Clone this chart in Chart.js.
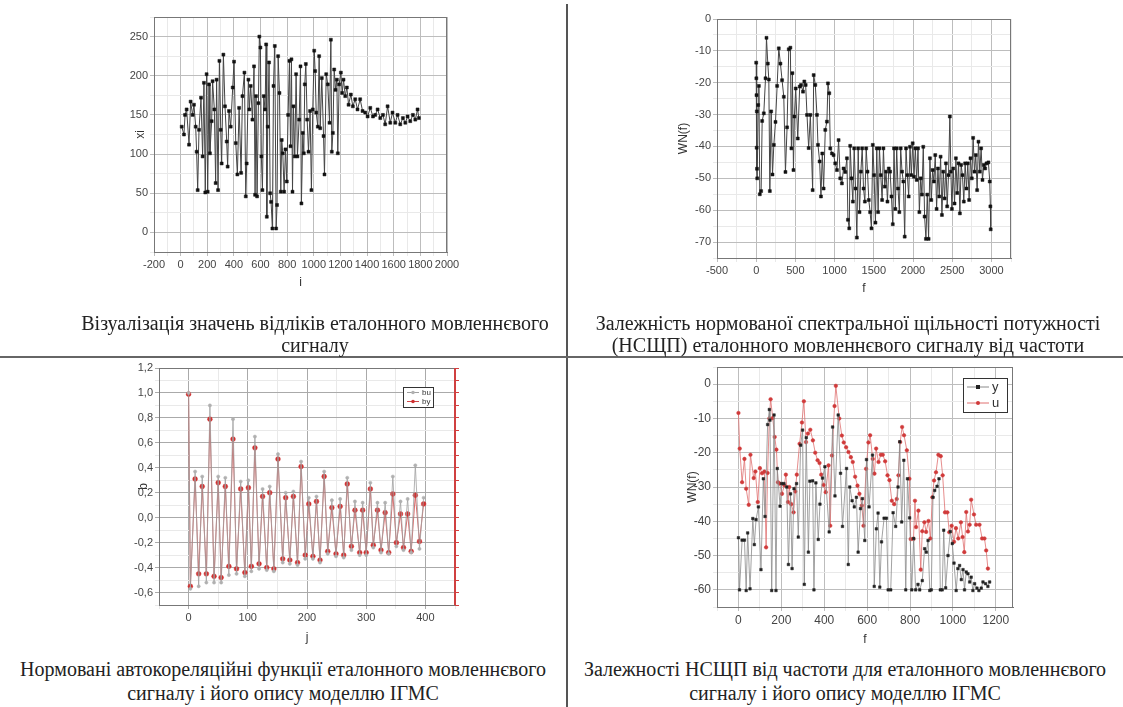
<!DOCTYPE html>
<html>
<head>
<meta charset="utf-8">
<script src="https://cdn.jsdelivr.net/npm/chart.js@4.4.0/dist/chart.umd.min.js"></script>
<style>
  body { margin: 0; background: #fff; }
  #page { position: relative; width: 1123px; height: 707px; overflow: hidden; background: #fff; }
  .box { position: absolute; }
  .cap { position: absolute; width: 600px; text-align: center; color: #222;
         font-family: "Liberation Serif", "Times New Roman", serif; font-size: 20px;
         line-height: 22px; white-space: nowrap; }
  .vline { position: absolute; left: 566px; top: 4px; width: 1.5px; height: 703px; background: #555; }
  .hline { position: absolute; left: 0; top: 356px; width: 1123px; height: 2px; background: #666; }
</style>
</head>
<body>
<div id="page">
  <div class="box" style="left:100px;top:0px"><canvas id="c1" width="365" height="300"></canvas></div>
  <div class="box" style="left:660px;top:0px"><canvas id="c2" width="370" height="300"></canvas></div>
  <div class="box" style="left:100px;top:355px"><canvas id="c3" width="380" height="300"></canvas></div>
  <div class="box" style="left:660px;top:355px"><canvas id="c4" width="370" height="300"></canvas></div>
  <div class="vline"></div>
  <div class="hline"></div>
  <div class="cap" style="left:15px;top:312px">Візуалізація значень відліків еталонного мовленнєвого<br>сигналу</div>
  <div class="cap" style="left:548px;top:312px">Залежність нормованої спектральної щільності потужності<br>(НСЩП) еталонного мовленнєвого сигналу від частоти</div>
  <div class="cap" style="left:-17px;top:657px;line-height:24px">Нормовані автокореляційні функції еталонного мовленнєвого<br>сигналу і його опису моделлю ІГМС</div>
  <div class="cap" style="left:545px;top:657px;line-height:24px">Залежності НСЩП від частоти для еталонного мовленнєвого<br>сигналу і його опису моделлю ІГМС</div>
</div>
<script>
// ---- chart 1: signal samples xi(i)
var X1 = [8,25,33,45,63,75,90,100,113,120,128,138,153,165,175,185,195,203,213,220,
  233,240,253,263,270,281,291,301,308,321,333,346,353,363,376,391,401,414,426,439,
  454,464,479,489,496,509,516,526,539,551,559,566,574,584,591,599,606,614,624,634,
  642,647,654,664,672,679,689,697,707,717,724,732,742,752,759,767,777,787,797,807,
  817,825,832,840,847,857,867,877,890,900,907,917,925,932,940,950,960,972,982,992,
  1003,1010,1018,1030,1040,1048,1060,1073,1080,1093,1105,1118,1128,1135,1143,1153,1163,1173,1180,1190,
  1203,1213,1223,1236,1248,1261,1278,1293,1311,1328,1348,1366,1386,1404,1424,1444,1461,1479,1499,1519,
  1536,1554,1574,1591,1612,1629,1649,1669,1687,1704,1724,1744,1762,1779,1789];
var V1 = [135,125,150,157,112,167,150,163,135,103,54,131,172,97,191,51,202,52,189,101,
  142,193,157,63,195,54,219,131,88,227,161,116,84,155,135,185,218,114,74,159,
  76,174,204,46,88,195,157,187,144,212,48,174,46,165,250,236,97,54,174,157,
  240,20,135,217,50,39,5,187,238,5,35,225,178,52,118,101,52,106,65,150,
  219,110,221,52,161,97,202,97,144,212,37,127,101,189,215,144,103,155,54,157,
  232,206,153,135,225,133,197,123,74,202,189,140,246,103,127,208,182,195,101,189,
  204,178,195,174,185,163,176,161,170,157,170,155,153,148,159,148,150,157,146,150,
  138,161,140,153,140,150,138,146,140,148,142,150,144,157,146];
var X1_TICKS = [-200,0,200,400,600,800,1000,1200,1400,1600,1800,2000];
var Y1_TICKS = [0,50,100,150,200,250];

// ---- chart 2: normalised PSD WN(f)
var X2 = [0,2,4,6,8,10,13,25,34,46,63,76,97,119,131,148,161,174,191,208,
  225,246,267,288,309,330,352,373,394,415,436,449,462,475,487,504,530,555,572,597,
  614,631,648,669,691,720,733,754,775,788,809,826,843,860,881,902,915,932,945,966,
  987,1008,1030,1051,1072,1093,1114,1136,1157,1170,1187,1199,1216,1233,1250,1267,1284,1301,1318,1335,
  1352,1369,1386,1403,1420,1436,1453,1470,1487,1504,1521,1538,1555,1572,1589,1606,1623,1640,1657,1674,
  1691,1708,1725,1742,1758,1775,1792,1809,1826,1843,1860,1877,1894,1911,1928,1945,1962,1979,1996,2013,
  2030,2047,2064,2081,2098,2114,2131,2148,2165,2182,2199,2216,2233,2250,2267,2284,2301,2318,2335,2352,
  2369,2386,2403,2420,2436,2453,2470,2483,2496,2513,2530,2547,2564,2581,2598,2614,2631,2648,2665,2682,
  2699,2716,2733,2750,2767,2784,2801,2818,2835,2852,2869,2886,2903,2920,2937,2962,2979,2987,2991];
var V2 = [-13.7,-18.6,-23.9,-40.4,-29,-47,-50,-27,-21,-55,-54,-32,-29.6,-18.6,-5.9,-14,-19,-54,-29,-48.8,
  -39.5,-32.3,-21,-9.2,-14,-19.2,-24.4,-48,-34,-9.5,-9,-40.6,-17,-47.4,-30.6,-21.8,-37.5,-21.2,-20.7,-22.8,
  -19.6,-20.7,-30.1,-40.5,-30.1,-53.7,-17.6,-20.7,-30.1,-39.5,-44.7,-55.7,-42.2,-53.2,-34.8,-32.2,-20.2,-23.3,-40.6,-42.2,
  -42.7,-45.3,-47.4,-38,-50,-51.6,-46.9,-48,-43.7,-63,-65.7,-39.8,-50,-57.3,-40.6,-53.2,-68.6,-40.6,-60.6,-47.9,
  -40.6,-53.2,-57.3,-40.6,-47.9,-56.8,-60.6,-65.7,-39.5,-49,-63.9,-40.6,-60.6,-40.6,-49,-56.8,-40.6,-52.6,-47.9,-57.3,
  -46.9,-47.9,-55.7,-64.4,-40.6,-59.6,-40.6,-53.2,-60.6,-40.6,-47.9,-51,-68.3,-40.6,-49,-55.7,-40.1,-49,-39,-49.5,
  -40.6,-50.5,-40.6,-60.6,-50,-55.1,-40.1,-62,-69,-55.1,-69,-43.7,-56.8,-47.4,-51,-42.7,-59.6,-46.9,-55.7,-43.2,
  -61.5,-47.9,-56.3,-45.3,-58.8,-49,-30.6,-47.9,-59.6,-46.9,-57.9,-43.7,-54.6,-45.3,-61,-45.8,-49,-57.3,-45.3,-53.2,
  -45.3,-56.8,-43.7,-50,-37.3,-47.9,-42.7,-53.7,-38.5,-47.9,-40.6,-50.5,-45.8,-46.9,-45.3,-45,-51,-58.8,-66];
var X2_TICKS = [-500,0,500,1000,1500,2000,2500,3000];
var Y2_TICKS = [-70,-60,-50,-40,-30,-20,-10,0];

// ---- chart 3: autocorrelation bu / by
var J3 = [0,3,11,17,23,30,36,43,50,55,62,68,75,81,88,95,101,106,112,119,
  125,132,137,144,151,159,164,171,177,184,190,197,203,210,216,222,229,235,242,249,
  256,262,268,275,281,289,294,300,307,312,319,325,332,338,345,351,358,363,370,376,
  383,390,397];
var BU = [1.0,-0.57,0.37,-0.55,0.33,-0.52,0.90,-0.52,0.33,-0.52,0.32,-0.46,0.79,-0.45,0.29,-0.47,0.30,-0.43,0.65,-0.41,
  0.23,-0.42,0.25,-0.43,0.51,-0.36,0.20,-0.37,0.21,-0.38,0.45,-0.33,0.16,-0.33,0.17,-0.36,0.37,-0.29,0.14,-0.31,
  0.15,-0.32,0.32,-0.26,0.13,-0.30,0.12,-0.30,0.28,-0.24,0.12,-0.28,0.12,-0.29,0.33,-0.23,0.13,-0.26,0.15,-0.28,
  0.42,-0.25,0.16];
var BY = [0.99,-0.55,0.31,-0.45,0.25,-0.45,0.79,-0.47,0.28,-0.48,0.25,-0.39,0.63,-0.41,0.23,-0.44,0.24,-0.39,0.56,-0.37,
  0.17,-0.40,0.20,-0.41,0.47,-0.33,0.16,-0.34,0.17,-0.36,0.41,-0.30,0.11,-0.31,0.13,-0.34,0.33,-0.27,0.08,-0.29,
  0.09,-0.30,0.27,-0.23,0.06,-0.28,0.06,-0.28,0.23,-0.22,0.06,-0.26,0.04,-0.28,0.19,-0.20,0.03,-0.24,0.03,-0.27,
  0.18,-0.19,0.11];
var X3_TICKS = [0,100,200,300,400];
var Y3_TICKS = [-0.6,-0.4,-0.2,0,0.2,0.4,0.6,0.8,1.0,1.2];

// ---- chart 4: PSD of signal (y) and model (u)
var F4Y = [0,5,17,28,36,43,54,67,74,82,93,105,116,124,136,144,147,155,166,175,
  181,194,202,212,225,233,243,250,259,271,279,290,299,307,316,326,333,346,352,361,
  372,380,392,403,423,439,450,465,476,485,504,512,519,530,540,550,558,569,578,589,
  597,609,625,633,643,651,659,667,679,690,698,710,721,733,744,752,761,771,780,788,
  798,808,817,826,837,845,857,868,876,884,892,899,907,915,926,935,941,950,957,966,
  977,988,997,1005,1015,1023,1031,1039,1047,1054,1062,1070,1078,1085,1093,1101,1112,1121,1132,1140,
  1152,1163,1171];
var WY = [-44.8,-60,-45.5,-45.5,-60.2,-43.4,-59.7,-39.2,-46.8,-39.5,-35.8,-54.1,-27.6,-38.6,-11.8,-7.4,-10.5,-60.2,-9,-60.2,
  -24.6,-35.6,-29,-29,-30,-52.6,-32,-53.8,-30.5,-29,-44.6,-17.8,-13.4,-58.4,-15.6,-49,-28.3,-28.2,-60,-28.8,
  -45.3,-35,-27.4,-24.1,-43.1,-12.5,-32.6,-9,-26,-41.5,-24.6,-52.6,-30,-34,-35.8,-33,-49,-36.3,-33.4,-45.6,
  -22,-35.8,-20.7,-59,-42.2,-37.6,-59.2,-46,-39.1,-39.1,-60,-60,-37.5,-41.5,-30,-16.8,-40.2,-22.2,-60,-27.6,
  -39,-60,-45,-60,-58.4,-60,-57.3,-48,-49,-45.6,-60.2,-60,-33,-31,-29.8,-27.6,-60,-60,-42.6,-59.4,
  -50,-43,-46.5,-52.2,-60.2,-53.8,-52.9,-57,-54.1,-60,-54.8,-55.3,-57.7,-56.3,-60.2,-58.2,-59.5,-60.2,-59.5,-57.7,
  -58.2,-59,-57.7];
var F4U = [0,6,17,28,36,48,56,71,79,90,100,110,121,129,136,144,150,160,169,177,
  184,192,203,214,221,231,237,246,257,265,272,285,296,305,315,324,335,347,358,369,
  378,386,397,407,420,428,436,448,454,470,482,491,502,513,524,533,544,555,564,575,
  583,595,606,614,626,634,642,653,664,673,684,695,704,715,726,738,746,754,763,772,
  785,797,803,816,823,828,839,850,857,867,875,886,895,904,912,921,932,943,952,963,
  974,983,994,1005,1014,1025,1037,1045,1053,1062,1070,1078,1085,1098,1108,1124,1136,1147,1155,1163];
var WU = [-8.4,-18.8,-28.6,-21.8,-30.5,-35.2,-20.6,-27.4,-25.5,-34.4,-24.5,-26,-25.5,-47.6,-25.9,-10,-4.4,-9.9,-15.4,-19.1,
  -28.6,-29,-32,-29.5,-26.4,-34.4,-30,-35,-37.4,-31.3,-26.4,-17.4,-11.2,-5,-16.9,-14.4,-13.3,-16.4,-20,-22.2,
  -23,-26.4,-29.4,-31.5,-23.7,-41.3,-20.8,-6.4,-0.5,-10,-15,-17,-18.4,-19.8,-21.3,-22.7,-27,-29.6,-32,-35.4,
  -41.3,-24.7,-17,-14.9,-21.8,-26.1,-18.8,-22.7,-20.6,-20.6,-22.5,-26.6,-28,-34,-35,-33.5,-26.6,-16.9,-12.5,-14.9,
  -19.3,-27.6,-45.2,-45.2,-34,-41.7,-36.9,-54.1,-42.9,-40.3,-43.1,-39.9,-45,-33,-28.1,-25.7,-20.6,-21,-26.6,-37.4,
  -37.4,-43.2,-41.3,-46,-42,-45,-40.3,-44.6,-49,-37.3,-43,-41,-33.7,-38,-41,-41,-45,-45,-48.5,-53.8];
var X4_TICKS = [0,200,400,600,800,1000,1200];
var Y4_TICKS = [-60,-50,-40,-30,-20,-10,0];

function zip(xs, ys) { return xs.map(function (x, i) { return { x: x, y: ys[i] }; }); }

// major ticks carry a label, minor ticks halfway between them do not
function withMinor(majors, min, max) {
  var step = majors[1] - majors[0], out = [];
  var first = majors[0] - step / 2;
  if (first >= min) out.push({ value: first });
  majors.forEach(function (v) {
    out.push({ value: v, lab: true });
    var m = v + step / 2;
    if (m <= max + 1e-9) out.push({ value: m });
  });
  return out;
}

function axis(o) {
  var horiz = o.pos === 'bottom';
  return {
    type: 'linear', position: o.pos, min: o.min, max: o.max,
    afterBuildTicks: function (s) { s.ticks = withMinor(o.ticks, o.min, o.max); },
    ticks: {
      autoSkip: false, maxRotation: 0, padding: 2, color: '#444',
      font: { family: 'Liberation Sans, Arial', size: o.font || 11 },
      callback: function (v, i, ts) {
        if (!ts[i].lab) return '';
        return o.fmt ? o.fmt(v) : String(v);
      }
    },
    grid: {
      tickLength: 4,
      color: function (c) { return c.tick && c.tick.lab ? (o.major || '#bdbdbd') : '#e9e9e9'; }
    },
    border: { color: '#777' },
    title: {
      display: true, text: o.title, color: '#333',
      font: { family: 'Liberation Sans, Arial', size: 12 },
      // bottom titles are offset by padding.bottom, left titles by padding.top
      padding: horiz ? { top: 0, bottom: o.tpad } : { top: o.tpad, bottom: 0 }
    }
  };
}

var framePlugin = {
  id: 'frame',
  beforeDatasetsDraw: function (chart, args, opts) {
    var a = chart.chartArea, ctx = chart.ctx;
    ctx.save();
    ctx.lineWidth = 1;
    ctx.strokeStyle = '#777';
    ctx.beginPath();
    ctx.moveTo(a.left, a.top + 0.5); ctx.lineTo(a.right, a.top + 0.5);
    ctx.stroke();
    ctx.strokeStyle = opts.right || '#777';
    ctx.beginPath();
    ctx.moveTo(a.right - 0.5, a.top); ctx.lineTo(a.right - 0.5, a.bottom);
    ctx.stroke();
    ctx.restore();
  }
};

var boxLegend = {
  id: 'boxLegend',
  afterDraw: function (chart, args, o) {
    if (!o.x) return;
    var ctx = chart.ctx;
    ctx.save();
    ctx.fillStyle = '#fff';
    ctx.fillRect(o.x, o.y, o.w, o.h);
    ctx.strokeStyle = '#333'; ctx.lineWidth = 1;
    ctx.strokeRect(o.x + 0.5, o.y + 0.5, o.w, o.h);
    ctx.font = o.size + 'px Liberation Sans, Arial';
    ctx.textBaseline = 'middle';
    chart.data.datasets.forEach(function (d, i) {
      var cy = o.y + o.pad + o.row * (i + 0.5);
      var x0 = o.x + 4, x1 = x0 + o.line;
      ctx.strokeStyle = d.borderColor; ctx.lineWidth = 1;
      ctx.beginPath(); ctx.moveTo(x0, cy); ctx.lineTo(x1, cy); ctx.stroke();
      ctx.fillStyle = d.pointBackgroundColor;
      var r = o.mark;
      if (d.pointStyle === 'rect') ctx.fillRect((x0 + x1) / 2 - r, cy - r, 2 * r, 2 * r);
      else { ctx.beginPath(); ctx.arc((x0 + x1) / 2, cy, r, 0, Math.PI * 2); ctx.fill(); }
      ctx.fillStyle = '#333';
      ctx.fillText(d.label, x1 + 3, cy + 0.5);
    });
    ctx.restore();
  }
};

function makeChart(id, box, plot, datasets, scales, extra) {
  extra = extra || {};
  scales.x.afterFit = (function (h) { return function (s) { s.height = h; }; })(box.top + box.h - plot.b);
  scales.y.afterFit = (function (w) { return function (s) { s.width = w; }; })(plot.l - box.left);
  return new Chart(document.getElementById(id), {
    type: 'line',
    data: { datasets: datasets },
    options: {
      responsive: false, animation: false, devicePixelRatio: 1,
      layout: { padding: { top: plot.t - box.top, right: box.left + box.w - plot.r - (extra.y2 || 0), left: 0, bottom: 0 } },
      scales: scales,
      plugins: {
        legend: { display: false }, tooltip: { enabled: false },
        frame: { right: extra.right }, boxLegend: extra.legend || {}
      }
    },
    plugins: [framePlugin, boxLegend]
  });
}

function series(label, xs, ys, line, mark, style, r, width) {
  return {
    label: label, data: zip(xs, ys),
    borderColor: line, borderWidth: width || 0.8,
    pointStyle: style, pointRadius: r, pointBorderWidth: 0.5,
    pointBackgroundColor: mark, pointBorderColor: mark, tension: 0
  };
}

var comma = function (v) { return (Math.round(v * 10) / 10).toFixed(1).replace('.', ','); };

makeChart('c1', { left: 100, top: 0, w: 365, h: 300 }, { l: 154, t: 17, r: 447, b: 252 },
  [series('xi', X1, V1, '#444', '#111', 'rect', 2.1, 1)],
  {
    x: axis({ pos: 'bottom', min: -200, max: 2000, ticks: X1_TICKS, title: 'i', tpad: 10 }),
    y: axis({ pos: 'left', min: -25, max: 275, ticks: Y1_TICKS, title: 'xi', tpad: 33 })
  });

makeChart('c2', { left: 660, top: 0, w: 370, h: 300 }, { l: 717, t: 19, r: 1011, b: 258 },
  [series('WN(f)', X2, V2, '#444', '#111', 'rect', 2.1, 1)],
  {
    x: axis({ pos: 'bottom', min: -500, max: 3250, ticks: X2_TICKS, title: 'f', tpad: 4 }),
    y: axis({ pos: 'left', min: -75, max: 0, ticks: Y2_TICKS, title: 'WN(f)', tpad: 16 })
  });

var y3 = axis({ pos: 'left', min: -0.7, max: 1.2, ticks: Y3_TICKS, title: 'b', tpad: 36, fmt: comma, major: '#aaa' });
var y2 = {
  type: 'linear', position: 'right', min: -0.7, max: 1.2,
  afterBuildTicks: function (s) { s.ticks = withMinor(Y3_TICKS, -0.7, 1.2); },
  afterFit: function (s) { s.width = 5; },
  ticks: { display: false },
  grid: { drawOnChartArea: false, tickLength: 4, color: '#d04040' },
  border: { color: '#d04040' }
};
makeChart('c3', { left: 100, top: 355, w: 380, h: 300 }, { l: 159, t: 368, r: 455, b: 605 },
  [series('bu', J3, BU, '#a0a0a0', '#b0b0b0', 'circle', 1.6),
   series('by', J3, BY, '#d04848', '#d03030', 'circle', 2.4)],
  {
    x: axis({ pos: 'bottom', min: -50, max: 450, ticks: X3_TICKS, title: 'j', tpad: 10, major: '#aaa' }),
    y: y3, y2: y2
  },
  { y2: 5, right: '#d04040', legend: { x: 303, y: 32, w: 30, h: 20, pad: 1, row: 9, line: 12, mark: 1.8, size: 8 } });

makeChart('c4', { left: 660, top: 355, w: 370, h: 300 }, { l: 717, t: 367, r: 1013, b: 607 },
  [series('y', F4Y, WY, '#8a8a8a', '#222', 'rect', 1.8),
   series('u', F4U, WU, '#e07070', '#d03a3a', 'circle', 1.8)],
  {
    x: axis({ pos: 'bottom', min: -100, max: 1280, ticks: X4_TICKS, title: 'f', tpad: 8, font: 12 }),
    y: axis({ pos: 'left', min: -65, max: 5, ticks: Y4_TICKS, title: 'WN(f)', tpad: 25, font: 12 })
  },
  { legend: { x: 303, y: 23, w: 44, h: 34, pad: 1, row: 16, line: 22, mark: 2, size: 13 } });
</script>
</body>
</html>
